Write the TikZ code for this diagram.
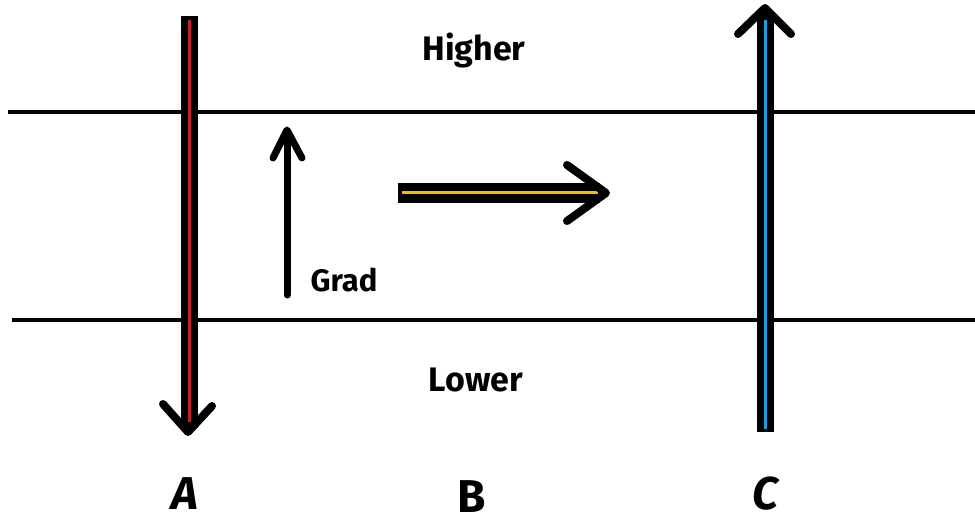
\documentclass[tikz,border=0pt]{standalone}
\usepackage{fontspec}
\setmainfont{Fira Sans}
\usepackage{xcolor}
\usepackage{tikz}
\usetikzlibrary{calc}
\definecolor{FlowRed}{RGB}{196, 32, 40}
\definecolor{FlowCyan}{RGB}{24, 160, 222}
\definecolor{FlowGold}{RGB}{250, 188, 0}

\tikzset{
  levelline/.style={line width=4pt},
  shaft/.style={line width=17pt},
  core/.style={line width=3pt},
  barb/.style={line width=8pt, line cap=round, line join=round},
  midlabel/.style={inner sep=0pt, font=\fontsize{34}{36}\selectfont\bfseries},
  biglabel/.style={inner sep=0pt, font=\fontsize{46}{48}\selectfont\bfseries\itshape}
}

\begin{document}
\begin{tikzpicture}[x=1pt,y=-1pt]
  \path[use as bounding box] (0,0) rectangle (975,524);

  % level lines
  \coordinate (topL) at (8,112);   \coordinate (topR) at (975,112);
  \coordinate (botL) at (12,320);  \coordinate (botR) at (975,320);
  \draw[levelline] (topL) -- (topR);
  \draw[levelline] (botL) -- (botR);

  % arrow A (down)
  \coordinate (aStart) at (189,16);
  \coordinate (aEnd)   at (189,428);
  \coordinate (aTip)   at (188,432);
  \draw[shaft] (aStart) -- (aEnd);
  \draw[core, FlowRed] ($(aStart)+(0,4)$) -- ($(aEnd)+(0,-6)$);
  \draw[barb] ($(aTip)+(-25,-28)$) -- (aTip) -- ($(aTip)+(24,-26)$);

  % arrow C (up)
  \coordinate (cStart) at (765,432);
  \coordinate (cEnd)   at (765,14);
  \coordinate (cTip)   at (765,8);
  \draw[shaft] (cStart) -- (cEnd);
  \draw[core, FlowCyan] ($(cStart)+(0,-3)$) -- ($(cEnd)+(0,6)$);
  \draw[barb] ($(cTip)+(-27,26)$) -- (cTip) -- ($(cTip)+(26,26)$);

  % arrow B (right)
  \coordinate (bStart) at (398,193);
  \coordinate (bEnd)   at (600,193);
  \coordinate (bTip)   at (606,193);
  \draw[line width=19pt] (bStart) -- (bEnd);
  \draw[core, FlowGold] ($(bStart)+(4,0)$) -- ($(bEnd)+(-2,0)$);
  \draw[barb] ($(bTip)+(-39,-28)$) -- (bTip) -- ($(bTip)+(-39,28)$);

  % gradient arrow
  \coordinate (gStart) at (287,295);
  \coordinate (gTip)   at (287,130);
  \draw[line width=7pt, line cap=round] (gStart) -- ($(gTip)+(0,4)$);
  \draw[line width=7pt, line cap=round, line join=round]
    ($(gTip)+(-14,28)$) -- (gTip) -- ($(gTip)+(15,28)$);

  % labels
  \node[midlabel] (higher) at (474,50) {Higher};
  \node[midlabel] (lower)  at (476,380) {Lower};
  \node[midlabel, font=\fontsize{31}{33}\selectfont\bfseries] (gradlabel) at (344,280) {Grad};
  \node[biglabel] (labA) at (185,494) {A};
  \node[biglabel, font=\fontsize{46}{48}\selectfont\bfseries] (labB) at (472,497) {B};
  \node[biglabel] (labC) at (765,494) {C};
\end{tikzpicture}
\end{document}
